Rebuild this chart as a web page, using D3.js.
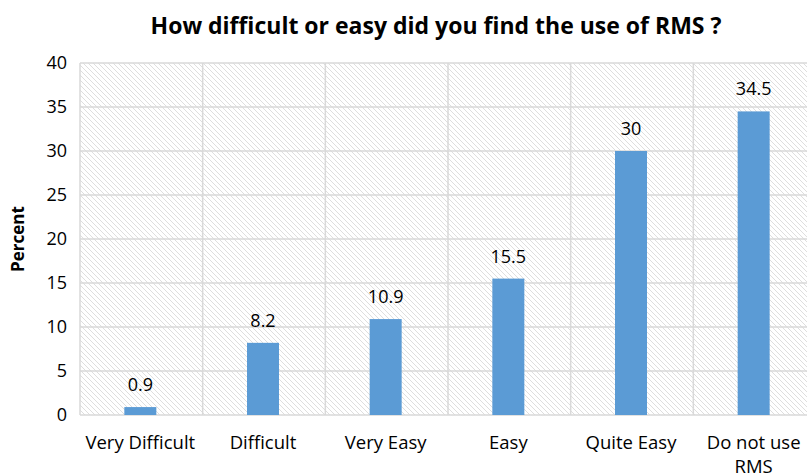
<!DOCTYPE html>
<html>
<head>
<meta charset="utf-8">
<script src="https://cdn.jsdelivr.net/npm/d3@7"></script>
<style>
  body { margin: 0; background: #fff; }
  text { font-family: "Open Sans", Lato, sans-serif; fill: #000; }
</style>
</head>
<body>
<svg id="svg" width="807" height="474"></svg>
<script>
const categories = ['Very Difficult', 'Difficult', 'Very Easy', 'Easy', 'Quite Easy', 'Do not use RMS']
const values = [0.9, 8.2, 10.9, 15.5, 30, 34.5]
const valueLabels = ['0.9', '8.2', '10.9', '15.5', '30', '34.5']
const yTicks = [0, 5, 10, 15, 20, 25, 30, 35, 40]

function drawChart() {
  const margin = { top: 63, left: 80, bottom: 59 }
  const height = 474 - margin.bottom
  const plotRight = 816

  const svg = d3.select('#svg')

  const defs = svg.append('defs')
  const pattern = defs.append('pattern')
    .attr('id', 'hatch')
    .attr('patternUnits', 'userSpaceOnUse')
    .attr('width', 5)
    .attr('height', 5)
  pattern.append('rect').attr('width', 5).attr('height', 5).attr('fill', '#fff')
  pattern.append('path')
    .attr('d', 'M-1,-1 L6,6 M-1,4 L1,6 M4,-1 L6,1')
    .attr('stroke', '#dedede')
    .attr('stroke-width', 1)

  const xScale = d3.scaleBand()
    .domain(categories)
    .range([margin.left, plotRight])

  const yScale = d3.scaleLinear()
    .domain([0, 40])
    .range([height, margin.top])

  const center = c => xScale(c) + xScale.bandwidth() / 2 - 1

  // plot background
  svg.append('rect')
    .attr('x', margin.left)
    .attr('y', margin.top)
    .attr('width', plotRight - margin.left)
    .attr('height', height - margin.top)
    .attr('fill', 'url(#hatch)')

  // gridlines
  const grid = svg.append('g')
  grid.selectAll('line.h')
    .data(yTicks)
    .enter()
    .append('line')
    .attr('x1', margin.left)
    .attr('x2', plotRight)
    .attr('y1', d => yScale(d))
    .attr('y2', d => yScale(d))
    .attr('stroke', '#d9d9d9')
    .attr('stroke-width', 1.5)

  grid.selectAll('line.v')
    .data(categories)
    .enter()
    .append('line')
    .attr('x1', d => xScale(d))
    .attr('x2', d => xScale(d))
    .attr('y1', margin.top)
    .attr('y2', height)
    .attr('stroke', '#d9d9d9')
    .attr('stroke-width', 1.5)

  // bars
  const barWidth = 32
  svg.append('g')
    .selectAll('rect')
    .data(values)
    .enter()
    .append('rect')
    .attr('x', (d, i) => center(categories[i]) - barWidth / 2)
    .attr('y', d => yScale(d))
    .attr('width', barWidth)
    .attr('height', d => height - yScale(d))
    .attr('fill', '#5b9bd5')

  // value labels
  svg.append('g')
    .selectAll('text')
    .data(values)
    .enter()
    .append('text')
    .attr('x', (d, i) => center(categories[i]))
    .attr('y', d => yScale(d) - 16)
    .attr('text-anchor', 'middle')
    .attr('font-size', 18)
    .text((d, i) => valueLabels[i])

  // y tick labels
  svg.append('g')
    .selectAll('text')
    .data(yTicks)
    .enter()
    .append('text')
    .attr('x', 67)
    .attr('y', d => yScale(d) + 6)
    .attr('text-anchor', 'end')
    .attr('font-size', 18)
    .text(d => d)

  // x labels
  const xLabels = svg.append('g')
  categories.forEach(c => {
    const words = c === 'Do not use RMS' ? ['Do not use', 'RMS'] : [c]
    words.forEach((w, j) => {
      xLabels.append('text')
        .attr('x', center(c))
        .attr('y', 449 + j * 24)
        .attr('text-anchor', 'middle')
        .attr('font-size', 18.5)
        .text(w)
    })
  })

  // y axis title
  svg.append('text')
    .attr('transform', `translate(24, ${(margin.top + height) / 2}) rotate(-90)`)
    .attr('text-anchor', 'middle')
    .attr('font-size', 17)
    .attr('font-weight', 'bold')
    .text('Percent')

  // title
  svg.append('text')
    .attr('x', 436)
    .attr('y', 34)
    .attr('text-anchor', 'middle')
    .attr('font-size', 23)
    .attr('font-weight', 'bold')
    .text('How difficult or easy did you find the use of RMS ?')
}

drawChart()
</script>
</body>
</html>
